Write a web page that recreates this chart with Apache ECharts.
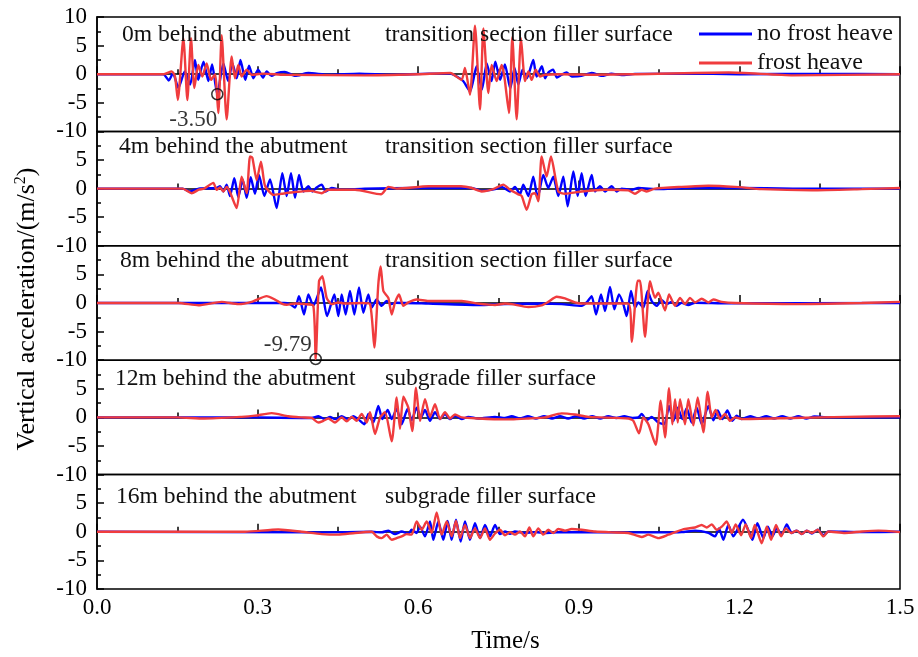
<!DOCTYPE html>
<html>
<head>
<meta charset="utf-8">
<script src="https://cdn.jsdelivr.net/npm/echarts@6/dist/echarts.min.js"></script>
<style>
  html, body { margin: 0; padding: 0; background: #fff; }
  #chart { width: 918px; height: 657px; }
</style>
</head>
<body>
<div id="chart"></div>
<script>
// time (s) / vertical acceleration (m/s^2)
const p1Blue = [[0,0],[0.124,0],[0.134,-1.1],[0.142,0.2],[0.152,-2.4],[0.164,0.5],[0.174,-1.8],[0.183,2.5],[0.189,-1.0],[0.199,2.2],[0.208,-1.2],[0.215,1.7],[0.2247,-3.5],[0.236,1.9],[0.245,-1.2],[0.253,1.9],[0.261,-0.7],[0.268,2.5],[0.277,-1.0],[0.284,1.5],[0.292,-0.7],[0.301,0.8],[0.31,-0.6],[0.317,0.5],[0.326,-0.3],[0.336,0.2],[0.351,0.4],[0.37,-0.3],[0.395,0.2],[0.432,-0.1],[0.49,0.1],[0.55,-0.1],[0.62,0.1],[0.66,0.1],[0.672,-0.4],[0.684,-1.2],[0.697,-3.0],[0.709,1.4],[0.719,-2.7],[0.728,1.9],[0.737,-1.2],[0.744,2.2],[0.753,-1.0],[0.762,1.7],[0.772,-2.5],[0.78,1.1],[0.787,-1.8],[0.795,0.8],[0.803,-0.7],[0.815,2.5],[0.821,-0.4],[0.831,1.4],[0.837,-0.7],[0.843,0.3],[0.852,0.8],[0.859,-0.6],[0.868,-0.1],[0.877,0.3],[0.887,-0.4],[0.905,-0.3],[0.924,0.2],[0.943,-0.3],[0.961,0.1],[0.98,-0.15],[1.005,0.05],[1.1,0.1],[1.2,0],[1.35,0.05],[1.5,0]];
const p1Red = [[0,0],[0.125,0],[0.1395,0.5],[0.1457,-0.4],[0.151,-4.5],[0.1613,6.3],[0.1688,-4.5],[0.1756,6.3],[0.1818,-2.4],[0.1893,1.6],[0.1967,-0.4],[0.2049,1.9],[0.213,-1.0],[0.2204,0],[0.2266,-6.8],[0.2329,6.8],[0.2422,-7.9],[0.2515,3.1],[0.2578,-0.7],[0.264,1.6],[0.2702,-0.4],[0.2796,0.8],[0.2889,-0.1],[0.31,0.1],[0.35,-0.1],[0.5,-0.2],[0.6,0],[0.66,0.2],[0.681,-1.0],[0.6873,1.1],[0.6967,-3.6],[0.7061,8.5],[0.7155,-6.2],[0.7217,8.0],[0.731,-3.3],[0.7372,1.6],[0.7466,-1.2],[0.7559,1.6],[0.7609,-0.4],[0.7696,-6.8],[0.7758,6.5],[0.7839,-7.9],[0.792,6.3],[0.7995,-1.2],[0.8057,0.5],[0.812,-1.0],[0.8194,0.8],[0.8275,-0.4],[0.8368,-0.1],[0.868,0],[0.93,-0.1],[1.0,0],[1.18,0.3],[1.3,-0.2],[1.5,0]];

const p2Blue = [[0,0],[0.16,0],[0.1737,-0.5],[0.19,0],[0.2235,0.1],[0.2297,0.4],[0.236,-0.5],[0.2422,0.7],[0.2484,-1.3],[0.2565,1.8],[0.264,-1.5],[0.2721,1.6],[0.2796,-1.6],[0.2871,2.0],[0.2951,-0.9],[0.3026,2.4],[0.3126,-1.3],[0.3232,1.6],[0.3356,-3.4],[0.3462,2.7],[0.3543,-1.3],[0.3624,2.7],[0.3699,-1.6],[0.3774,2.4],[0.3855,-0.5],[0.3948,0.4],[0.4023,-0.5],[0.4104,0.2],[0.4197,0.7],[0.4272,-0.5],[0.4384,0.1],[0.4571,-0.2],[0.5,0],[0.6,0.1],[0.7,0.1],[0.7185,-0.4],[0.7435,-0.1],[0.756,0.3],[0.7715,-0.5],[0.7808,0.3],[0.7901,-1.0],[0.7964,0.7],[0.8057,-1.3],[0.815,2.1],[0.8232,-1.6],[0.8337,2.4],[0.843,0.1],[0.8524,2.1],[0.8617,-1.3],[0.8711,2.1],[0.8792,-3.1],[0.8898,3.0],[0.8979,-1.3],[0.9053,2.7],[0.9128,-1.3],[0.9241,2.4],[0.9303,-0.5],[0.9396,0.4],[0.949,-0.5],[0.9614,0.4],[0.9708,-0.5],[0.98,0],[0.9988,-0.2],[1.0112,0.1],[1.05,-0.1],[1.1,0.1],[1.2,0.1],[1.3,0],[1.5,0]];
const p2Red = [[0,0],[0.16,0],[0.1768,-0.8],[0.19,-0.2],[0.2,0],[0.2173,1.0],[0.2235,-0.2],[0.2297,0.2],[0.236,-0.5],[0.2422,0.3],[0.2484,-0.6],[0.2609,-3.4],[0.2702,2.1],[0.2796,-0.8],[0.2858,5.6],[0.2902,5.4],[0.2983,1.5],[0.3063,4.7],[0.3138,0.5],[0.3294,-1.1],[0.345,-0.9],[0.37,-0.6],[0.4,-0.4],[0.4197,-0.8],[0.432,-0.2],[0.482,-0.2],[0.5305,-1.0],[0.5442,0.3],[0.56,0],[0.619,0.4],[0.68,0.4],[0.7,0.1],[0.7185,-0.5],[0.74,-0.1],[0.759,0.7],[0.7715,-0.2],[0.787,-1.0],[0.7933,-1.3],[0.8026,-3.7],[0.812,-1.0],[0.8182,-0.8],[0.8244,-2.2],[0.8306,5.6],[0.8399,2.1],[0.848,5.6],[0.8617,-0.5],[0.8742,-0.9],[0.9053,-0.5],[0.949,-0.2],[0.9925,-0.3],[1.005,-0.9],[1.0175,-0.2],[1.0268,-0.5],[1.0424,0],[1.0922,0.3],[1.142,0.5],[1.1919,0.3],[1.2417,-0.1],[1.3351,-0.3],[1.4285,-0.1],[1.5,0.1]];

const p3Blue = [[0,0],[0.35,0],[0.3605,-0.2],[0.3699,-0.8],[0.3774,1.2],[0.3867,-2.0],[0.3948,1.5],[0.4041,-0.5],[0.4184,2.7],[0.4297,-2.3],[0.4434,1.5],[0.4508,-2.3],[0.4571,1.5],[0.4645,-2.0],[0.4726,2.1],[0.4807,-2.0],[0.4894,2.7],[0.4975,-1.7],[0.5069,1.5],[0.5131,-0.8],[0.5224,0.6],[0.5318,-0.5],[0.5411,0.35],[0.5505,-0.2],[0.5567,0.05],[0.619,-0.1],[0.7123,-0.35],[0.762,-0.2],[0.8306,-0.1],[0.868,-0.2],[0.9053,-0.5],[0.9146,0.1],[0.9241,1.2],[0.9322,-2.0],[0.9415,1.5],[0.949,-1.4],[0.9583,2.8],[0.9664,-1.1],[0.9751,1.5],[0.9832,-0.2],[0.9894,-2.3],[0.9975,2.1],[1.005,-0.8],[1.0112,0.1],[1.0206,-0.8],[1.0287,2.1],[1.0361,0.35],[1.0455,-0.5],[1.0549,0.5],[1.0642,-0.2],[1.0735,0.2],[1.0829,-0.5],[1.0922,0.05],[1.1046,-0.35],[1.1171,0.05],[1.1794,-0.05],[1.5,0]];
const p3Red = [[0,0],[0.152,0],[0.1893,-0.4],[0.2329,0.2],[0.264,-0.2],[0.2889,0.2],[0.3169,1.2],[0.3325,0.6],[0.345,-0.1],[0.3543,-0.3],[0.3699,-0.1],[0.3886,-0.2],[0.4041,-0.5],[0.4085,-9.79],[0.4147,3.8],[0.4209,4.7],[0.429,0.9],[0.4384,-0.2],[0.4508,0.1],[0.4633,-0.1],[0.4944,0],[0.51,-0.2],[0.5181,-7.8],[0.5255,3.3],[0.5299,6.4],[0.5349,2.1],[0.5442,0.9],[0.5505,-2.0],[0.5567,0.1],[0.5642,1.5],[0.5722,-0.5],[0.5816,0.1],[0.5971,0.6],[0.619,0.35],[0.6812,0.35],[0.7123,-0.1],[0.7435,-0.35],[0.762,-0.1],[0.7746,-0.2],[0.8057,-0.7],[0.8306,-0.4],[0.843,0.2],[0.8586,1.1],[0.8742,0.8],[0.8928,0.1],[0.9053,-0.1],[0.9925,-0.1],[0.9988,-6.8],[1.01,3.9],[1.0143,3.9],[1.0237,-5.9],[1.033,3.8],[1.0424,0.9],[1.0486,1.8],[1.0611,-1.3],[1.0686,1.5],[1.0798,-0.5],[1.0891,0.9],[1.0984,-0.2],[1.1077,0.9],[1.1171,0.1],[1.1296,0.75],[1.142,0.1],[1.1513,0.6],[1.167,0.2],[1.1919,0],[1.304,-0.2],[1.4285,0],[1.5,0.2]];

const p4Blue = [[0,0],[0.3,0],[0.3824,-0.1],[0.401,-0.1],[0.4135,0.2],[0.4259,-0.3],[0.4353,0.1],[0.4446,-0.3],[0.4571,0.2],[0.4695,-0.3],[0.4788,0.2],[0.4882,-0.35],[0.4994,-1.2],[0.5069,0.6],[0.5162,-0.9],[0.5255,2.0],[0.533,-0.3],[0.543,1.3],[0.5505,-0.3],[0.5598,1.5],[0.5691,-1.2],[0.5803,1.5],[0.5878,-0.5],[0.5971,1.7],[0.6052,0],[0.6127,1.3],[0.6221,-0.6],[0.6314,0.9],[0.6408,-0.3],[0.6501,0.6],[0.6594,-0.3],[0.6687,0.3],[0.6812,-0.3],[0.6937,0.1],[0.7123,-0.2],[0.7435,0.1],[0.762,-0.1],[0.7746,0.2],[0.79,-0.2],[0.805,0.2],[0.82,-0.2],[0.835,0.2],[0.85,-0.2],[0.865,0.2],[0.88,-0.2],[0.895,0.2],[0.91,-0.2],[0.925,0.2],[0.94,-0.2],[0.955,0.2],[0.97,-0.1],[0.985,0.2],[1.0,-0.1],[1.0112,0],[1.0175,0.6],[1.0268,-0.5],[1.0361,0.1],[1.0486,-0.9],[1.0598,-1.2],[1.0686,2.0],[1.0767,-0.6],[1.0848,1.7],[1.0935,-0.3],[1.1015,1.6],[1.1109,-0.9],[1.1202,1.7],[1.1296,-1.2],[1.142,2.0],[1.1513,-0.5],[1.1595,1.2],[1.1682,-0.3],[1.1775,1.2],[1.1869,-0.6],[1.195,0.3],[1.2043,-0.3],[1.22,0.2],[1.235,-0.2],[1.25,0.2],[1.265,-0.2],[1.28,0.2],[1.295,-0.2],[1.31,0.2],[1.325,-0.2],[1.34,0.15],[1.366,0],[1.5,0]];
const p4Red = [[0,0],[0.15,0],[0.2,-0.2],[0.27,0.1],[0.295,0.3],[0.3262,0.75],[0.3574,0.2],[0.3824,0],[0.401,-0.1],[0.4135,-0.9],[0.4228,-0.6],[0.4322,-0.2],[0.4446,-0.9],[0.4571,0],[0.4664,-0.7],[0.4757,0.1],[0.485,-0.6],[0.4944,0.6],[0.5038,-0.9],[0.51,0.9],[0.5193,-2.9],[0.5287,0],[0.538,0.9],[0.5505,-4.2],[0.5598,3.5],[0.566,-2.0],[0.5722,3.6],[0.5816,1.7],[0.589,-2.4],[0.5959,5.2],[0.6034,-0.6],[0.6127,3.2],[0.6221,0.1],[0.6314,2.3],[0.6408,-0.3],[0.6501,0.9],[0.6594,-0.2],[0.6687,0.5],[0.6812,0],[0.7123,-0.2],[0.762,-0.35],[0.7746,-0.35],[0.8057,-0.2],[0.8368,0],[0.868,0.7],[0.8928,0.5],[0.9177,0.1],[0.9925,-0.2],[1.0019,-0.6],[1.0125,-2.8],[1.0206,0],[1.03,-1.2],[1.0436,-4.8],[1.053,2.9],[1.0611,-3.5],[1.0686,5.1],[1.0748,-1.2],[1.0798,3.2],[1.0848,-0.9],[1.0891,3.2],[1.0984,-1.2],[1.1046,3.2],[1.114,-1.4],[1.1221,3.5],[1.1327,-2.6],[1.1408,4.5],[1.1483,0],[1.1557,1.3],[1.1638,-0.3],[1.1732,0.6],[1.1825,-0.6],[1.1919,0],[1.2043,-0.3],[1.3,-0.1],[1.4,0.1],[1.5,0.2]];

const p5Blue = [[0,0],[0.4197,-0.1],[0.5131,0],[0.5318,-0.1],[0.5442,0.2],[0.5567,-0.4],[0.5691,0.05],[0.5816,-0.3],[0.5878,0.35],[0.5971,-0.2],[0.6034,0.9],[0.6127,-0.8],[0.6221,1.8],[0.6283,-1.4],[0.6376,1.8],[0.647,-1.4],[0.655,1.9],[0.6625,-1.4],[0.6706,2.1],[0.6793,-1.7],[0.6874,1.8],[0.6967,-1.4],[0.7061,1.5],[0.7155,-1.1],[0.7248,1.2],[0.7341,-0.8],[0.7435,1.2],[0.7528,-0.4],[0.7621,0.05],[0.7715,-0.35],[0.7808,0.05],[0.7995,-0.2],[0.8182,-0.05],[0.8368,-0.2],[0.868,-0.05],[0.9303,-0.1],[1.0549,-0.1],[1.0922,-0.05],[1.1171,0.2],[1.142,-0.2],[1.1545,-0.8],[1.1619,0.6],[1.1701,-1.4],[1.1794,1.2],[1.1887,-0.8],[1.2067,2.1],[1.22,-0.5],[1.2243,-1.4],[1.2336,1.5],[1.2448,-1.1],[1.253,0.9],[1.2617,-0.8],[1.2698,0.6],[1.2791,-0.5],[1.2884,1.3],[1.2978,-0.2],[1.3071,0.2],[1.3165,-0.4],[1.3258,0.2],[1.3352,-0.3],[1.3464,0.35],[1.3569,-0.6],[1.3662,0.05],[1.4285,-0.05],[1.5,0]];
const p5Red = [[0,0],[0.2765,0],[0.3387,0.4],[0.3824,0],[0.4197,-0.4],[0.4508,-0.5],[0.482,-0.2],[0.5131,0],[0.5224,-0.8],[0.5318,-1.1],[0.5411,-0.5],[0.5505,-1.4],[0.5598,-1.1],[0.5691,-0.8],[0.5785,-0.4],[0.5878,-0.5],[0.5971,1.8],[0.6065,0.35],[0.6158,1.8],[0.6252,-0.2],[0.6345,3.4],[0.6439,-0.5],[0.6532,1.8],[0.6625,-0.8],[0.6706,1.9],[0.6781,-1.1],[0.6874,1.2],[0.6967,-1.1],[0.7061,0.6],[0.7155,-1.1],[0.7248,0.6],[0.7341,-1.4],[0.7435,-0.3],[0.7528,0.35],[0.7621,-0.6],[0.7715,-0.05],[0.7808,-0.5],[0.7901,0.05],[0.7995,-0.8],[0.8076,0.75],[0.815,-0.8],[0.8244,0.6],[0.8337,-0.5],[0.843,0.35],[0.8524,-0.2],[0.8617,0.5],[0.8742,0.2],[0.8866,0.5],[0.9053,0.35],[0.9303,0.05],[0.9614,-0.1],[0.9925,-0.2],[1.0175,-0.9],[1.03,-0.5],[1.0486,-1.1],[1.0673,-0.5],[1.0829,0.05],[1.0984,0.5],[1.1171,0.75],[1.1296,1.2],[1.1389,0.75],[1.1483,1.3],[1.1576,0.35],[1.167,0.9],[1.1763,1.8],[1.1856,-0.2],[1.1931,1.3],[1.2031,-0.6],[1.2118,1.3],[1.2218,-1.1],[1.2287,1.2],[1.2417,-2.0],[1.2511,0.9],[1.2592,-1.4],[1.2685,1.2],[1.2779,-0.8],[1.2866,0.6],[1.2965,-0.2],[1.3071,0.2],[1.3165,-0.4],[1.3258,0.2],[1.3352,-0.2],[1.3464,0.35],[1.3569,-0.8],[1.3662,0.05],[1.3973,-0.2],[1.4285,0.05],[1.4596,0.2],[1.5,-0.05]];

const blueSeries = [p1Blue, p2Blue, p3Blue, p4Blue, p5Blue];
const redSeries = [p1Red, p2Red, p3Red, p4Red, p5Red];
const depthLabels = ['0m behind the abutment', '4m behind the abutment', '8m behind the abutment', '12m behind the abutment', '16m behind the abutment'];
const surfaceLabels = ['transition section filler surface', 'transition section filler surface', 'transition section filler surface', 'subgrade filler surface', 'subgrade filler surface'];
const seriesNames = ['no frost heave', 'frost heave'];
// marked extreme points: [panel, time, value, label]
const marks = [[0, 0.2247, -3.5, '-3.50'], [2, 0.4085, -9.79, '-9.79']];

const FONT = '"Liberation Serif", "Times New Roman", serif';
const BLUE = '#0000ff';
const RED = '#f03c3e';
const TOP = 17, H = 114.4, LEFT = 97, W = 803;
const depthLeft = [122, 119, 120, 115, 116];
const titleMid = [37, 149, 263, 381, 499];
const markOffset = [[-24, 26], [-28, -14]];

const chart = echarts.init(document.getElementById('chart'));
const black = { color: '#000', width: 1.5 };

const grids = blueSeries.map((_, i) => ({
  left: LEFT, width: W, top: TOP + i * H, height: H,
  show: true, borderColor: '#000', borderWidth: 1.5, backgroundColor: 'transparent'
}));

const xAxes = blueSeries.map((_, i) => ({
  gridIndex: i, type: 'value', min: 0, max: 1.5, interval: 0.3,
  axisLine: { show: true, lineStyle: black },
  axisTick: { show: true, inside: true, length: 8, lineStyle: black },
  minorTick: { show: true, splitNumber: 2, length: 5, lineStyle: black },
  splitLine: { show: false },
  axisLabel: {
    show: i === 4, color: '#000', fontFamily: FONT, fontSize: 23, margin: 7,
    formatter: v => v.toFixed(1)
  },
  name: i === 4 ? 'Time/s' : '',
  nameLocation: 'middle', nameGap: 40,
  nameTextStyle: { color: '#000', fontFamily: FONT, fontSize: 25, padding: [0, 0, 0, 14] }
}));

const yAxes = blueSeries.map((_, i) => ({
  gridIndex: i, type: 'value', min: -10, max: 10, interval: 5,
  axisLine: { show: true, lineStyle: black },
  axisTick: { show: true, inside: true, length: 7, lineStyle: black },
  minorTick: { show: true, splitNumber: 2, length: 4, lineStyle: black },
  splitLine: { show: false },
  axisLabel: { color: '#000', fontFamily: FONT, fontSize: 23, margin: 10, showMaxLabel: i === 0 },
  name: i === 2 ? 'Vertical acceleration/(m/s{sup|2})' : '',
  nameLocation: 'middle', nameGap: 56, nameRotate: 90,
  nameTextStyle: {
    color: '#000', fontFamily: FONT, fontSize: 26, padding: [0, 12, 0, 0],
    rich: { sup: { fontFamily: FONT, fontSize: 16, color: '#000', verticalAlign: 'top', padding: [0, 0, 12, 0] } }
  }
}));

const series = [];
blueSeries.forEach((d, i) => {
  series.push({
    name: seriesNames[0], type: 'line', xAxisIndex: i, yAxisIndex: i, data: d,
    symbol: 'none', smooth: 0.2, lineStyle: { color: BLUE, width: 2.4 }, itemStyle: { color: BLUE }, z: 2
  });
});
redSeries.forEach((d, i) => {
  series.push({
    name: seriesNames[1], type: 'line', xAxisIndex: i, yAxisIndex: i, data: d,
    symbol: 'none', smooth: 0.2, lineStyle: { color: RED, width: 2.4 }, itemStyle: { color: RED }, z: 3
  });
});
marks.forEach((m, k) => {
  series.push({
    type: 'scatter', xAxisIndex: m[0], yAxisIndex: m[0], data: [[m[1], m[2]]],
    symbol: 'circle', symbolSize: 11, clip: false, z: 5, silent: true,
    itemStyle: { color: 'rgba(0,0,0,0)', borderColor: '#000', borderWidth: 1.5 },
    label: {
      show: true, formatter: m[3], position: 'inside', offset: markOffset[k],
      color: '#000', fontFamily: FONT, fontSize: 23
    }
  });
});

const titles = [];
depthLabels.forEach((t, i) => {
  titles.push({ text: t, left: depthLeft[i], top: titleMid[i] - 14, padding: 0,
    textStyle: { color: '#111', fontFamily: FONT, fontSize: 23.6, fontWeight: 'normal' } });
  titles.push({ text: surfaceLabels[i], left: 385, top: titleMid[i] - 14, padding: 0,
    textStyle: { color: '#111', fontFamily: FONT, fontSize: 23.6, fontWeight: 'normal' } });
});

chart.setOption({
  animation: false,
  backgroundColor: '#fff',
  title: titles,
  legend: {
    data: seriesNames, orient: 'vertical', left: 699, top: 22, padding: 0,
    icon: 'rect', itemWidth: 53, itemHeight: 3, itemGap: 5, selectedMode: false,
    textStyle: { color: '#111', fontFamily: FONT, fontSize: 24 }
  },
  grid: grids,
  xAxis: xAxes,
  yAxis: yAxes,
  series: series
});
</script>
</body>
</html>
